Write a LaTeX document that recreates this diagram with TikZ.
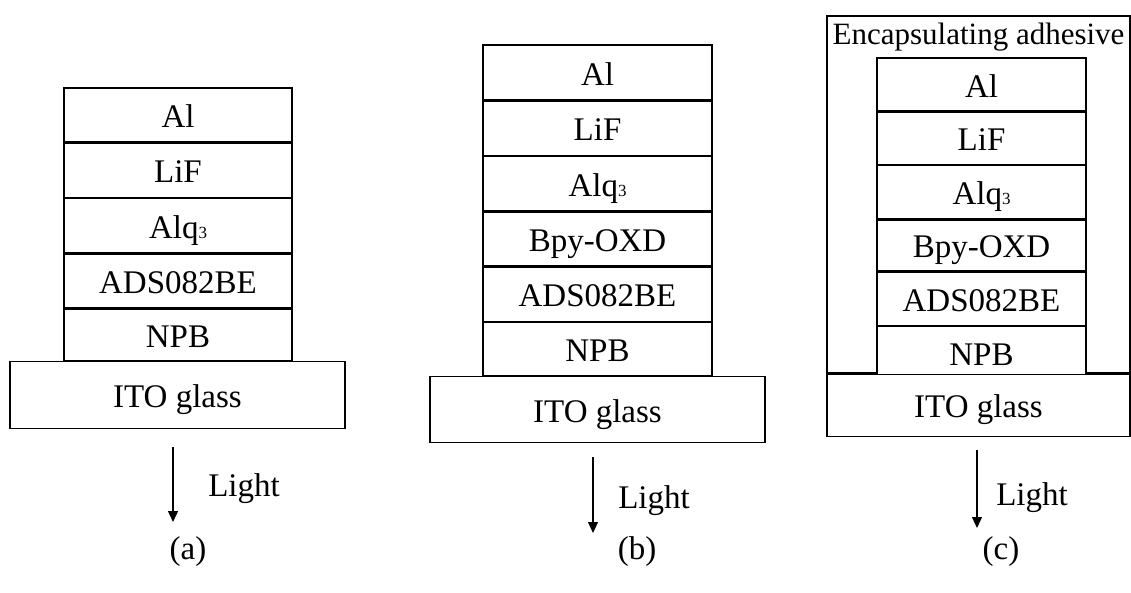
\documentclass[tikz,border=0pt]{standalone}
\usepackage{fontspec}
\setmainfont{Liberation Serif}
\usetikzlibrary{arrows.meta,positioning}
\newcommand{\alqthree}{Alq{\fontsize{17}{17}\selectfont 3}}

\begin{document}
\begin{tikzpicture}[x=1pt,y=-1pt,>={Triangle[width=10pt,length=11pt]},
  font=\fontsize{33}{40}\selectfont,
  every node/.style={text height=25pt,text depth=0pt,inner sep=0pt},
  layer/.style={draw,fill=white,line width=1.3pt,minimum width=228pt,minimum height=54pt},
  glass/.style={layer,minimum width=335pt,minimum height=67pt},
  lightray/.style={->,line width=1.2pt}]
  \useasboundingbox (0,0) rectangle (1131,592);
  % (a) without Bpy-OXD
  \node[layer] (a-al) at (178,115) {Al};
  \node[layer,below=0pt of a-al] (a-lif) {LiF};
  \node[layer,below=0pt of a-lif] (a-alq) {\alqthree};
  \node[layer,below=0pt of a-alq] (a-ads) {ADS082BE};
  \node[layer,below=0pt of a-ads,minimum height=51pt] (a-npb) {NPB};
  \node[glass,below=0pt of a-npb,xshift=-0.5pt] (a-ito) {ITO glass};
  \coordinate (a-from) at (173,447);
  \coordinate (a-to) at (173,522);
  \draw[lightray] (a-from) -- (a-to);
  \node (a-light) at (244,484) {Light};
  \node (a-cap) at (188,547) {(a)};
  % (b) with Bpy-OXD
  \node[layer,minimum width=229pt,minimum height=55pt] (b-al) at (597.5,72.5) {Al};
  \node[layer,minimum width=229pt,below=0pt of b-al] (b-lif) {LiF};
  \node[layer,minimum width=229pt,below=0pt of b-lif] (b-alq) {\alqthree};
  \node[layer,minimum width=229pt,below=0pt of b-alq] (b-bpy) {Bpy-OXD};
  \node[layer,minimum width=229pt,below=0pt of b-bpy] (b-ads) {ADS082BE};
  \node[layer,minimum width=229pt,below=0pt of b-ads,minimum height=53pt] (b-npb) {NPB};
  \node[glass,below=0pt of b-npb,minimum height=66pt] (b-ito) {ITO glass};
  \coordinate (b-from) at (593,457);
  \coordinate (b-to) at (593,533);
  \draw[lightray] (b-from) -- (b-to);
  \node (b-light) at (654,496) {Light};
  \node (b-cap) at (637,547) {(b)};
  % (c) encapsulated
  \node[layer,minimum width=303pt,minimum height=357pt,
    label={[anchor=north,inner sep=4pt,font=\fontsize{31}{38}\selectfont]north:Encapsulating adhesive}] (c-glue) at (978.5,194.5) {};
  \node[layer,minimum width=209pt,minimum height=53pt] (c-al) at (981.5,84.5) {Al};
  \node[layer,minimum width=209pt,minimum height=52pt,below=0pt of c-al] (c-lif) {LiF};
  \node[layer,minimum width=209pt,minimum height=53pt,below=0pt of c-lif] (c-alq) {\alqthree};
  \node[layer,minimum width=209pt,minimum height=51pt,below=0pt of c-alq] (c-bpy) {Bpy-OXD};
  \node[layer,minimum width=209pt,minimum height=53pt,below=0pt of c-bpy] (c-ads) {ADS082BE};
  \node[layer,minimum width=209pt,minimum height=53pt,below=0pt of c-ads] (c-npb) {NPB};
  \node[glass,minimum width=303pt,minimum height=62pt,below=0pt of c-glue] (c-ito) {ITO glass};
  \coordinate (c-from) at (977,450);
  \coordinate (c-to) at (977,528);
  \draw[lightray] (c-from) -- (c-to);
  \node (c-light) at (1032,493) {Light};
  \node (c-cap) at (1001,547) {(c)};
\end{tikzpicture}
\end{document}
